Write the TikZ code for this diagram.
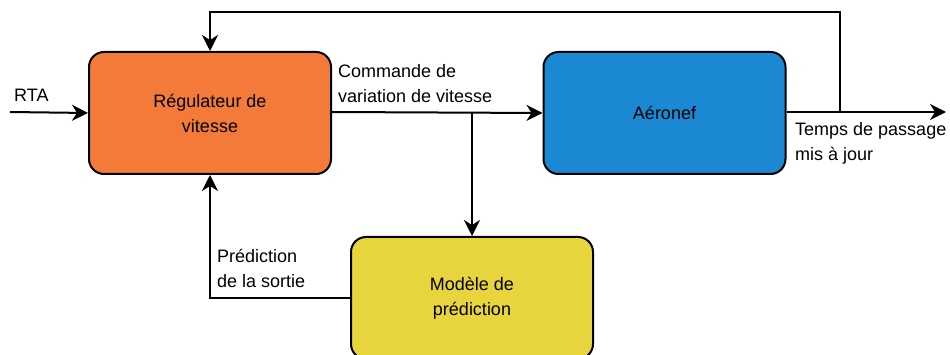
\documentclass[tikz,border=0pt]{standalone}
\usepackage{fontspec}
\setmainfont{Liberation Sans}
\usetikzlibrary{arrows.meta,positioning}
\definecolor{regorange}{HTML}{F47A3A}
\definecolor{aerblue}{HTML}{1A88D2}
\definecolor{modyellow}{HTML}{E8D43C}
\tikzset{font=\fontsize{18}{25}\selectfont}
\tikzstyle{blk}=[draw=black,line width=2pt,rounded corners=15pt,minimum width=242pt,minimum height=122pt,align=center,inner sep=0pt]
\tikzstyle{lbl}=[anchor=west,align=left,inner sep=0pt]
\begin{document}
\begin{tikzpicture}[x=1pt,y=-1pt,>={Stealth[length=16pt,width=16pt,inset=5pt]}]
\useasboundingbox (0,0) rectangle (950,355);
\begin{scope}
\clip (0,0) rectangle (950,355);
\node[blk,fill=regorange] (R) at (210,113) {Régulateur de\\vitesse};
\node[blk,fill=aerblue] (A) at (664.5,113) {Aéronef};
\node[blk,fill=modyellow] (M) at (472,298) {Modèle de\\prédiction};
\coordinate (in) at (10,112);
\coordinate (out) at (946,112);
\coordinate (br) at (472,112);
\coordinate (fb) at (840,112);
\coordinate (fbtop) at (840,12);
\node[lbl] (rta) at (14,95) {RTA};
\node[lbl] (cmd) at (338,84) {Commande de\\variation de vitesse};
\node[lbl] (tps) at (795,143) {Temps de passage\\mis à jour};
\node[lbl] (pred) at (217,268) {Prédiction\\de la sortie};
\path[->,line width=2pt]
(in) edge (R.west)
(R.east |- br) edge (A.west)
(br) edge (M.north)
(A.east |- out) edge (out);
\draw[->,line width=2pt] (fb) -- (fbtop) -| (R.north);
\draw[->,line width=2pt] (M.west) -| (R.south);
\end{scope}
\end{tikzpicture}
\end{document}
